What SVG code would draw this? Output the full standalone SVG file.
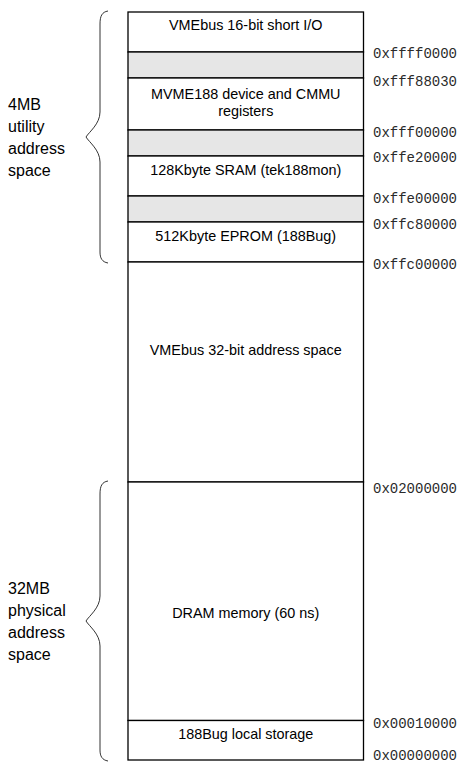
<svg xmlns="http://www.w3.org/2000/svg" width="461" height="770" viewBox="0 0 461 770">
<style>
.cell{fill:#ffffff;stroke:#000000;stroke-width:1.3}
.gap{fill:#e6e6e6;stroke:#000000;stroke-width:1.3}
.lbl{font-family:"Liberation Sans",Arial,sans-serif;font-size:14.4px;fill:#000000;text-anchor:middle}
.side{font-family:"Liberation Sans",Arial,sans-serif;font-size:16px;fill:#000000}
.addr{font-family:"Liberation Mono","Courier New",monospace;font-size:14px;fill:#2a2a2a}
.brace{fill:none;stroke:#333333;stroke-width:1}
</style>
<rect width="461" height="770" fill="#ffffff"/>
<g id="vme16">
<rect class="cell" x="128" y="12" width="235.5" height="40"/>
<text class="lbl" x="245.75" y="30">VMEbus 16-bit short I/O</text>
</g>
<g id="gap1"><rect class="gap" x="128" y="52" width="235.5" height="26"/></g>
<g id="mvme188">
<rect class="cell" x="128" y="78" width="235.5" height="52"/>
<text class="lbl" x="245.75" y="99">MVME188 device and CMMU</text>
<text class="lbl" x="245.75" y="116">registers</text>
</g>
<g id="gap2"><rect class="gap" x="128" y="130" width="235.5" height="26"/></g>
<g id="sram">
<rect class="cell" x="128" y="156" width="235.5" height="40"/>
<text class="lbl" x="245.75" y="175">128Kbyte SRAM (tek188mon)</text>
</g>
<g id="gap3"><rect class="gap" x="128" y="196" width="235.5" height="26"/></g>
<g id="eprom">
<rect class="cell" x="128" y="222" width="235.5" height="40"/>
<text class="lbl" x="245.75" y="241">512Kbyte EPROM (188Bug)</text>
</g>
<g id="vme32">
<rect class="cell" x="128" y="262" width="235.5" height="220"/>
<text class="lbl" x="245.75" y="355">VMEbus 32-bit address space</text>
</g>
<g id="dram">
<rect class="cell" x="128" y="482" width="235.5" height="238.5"/>
<text class="lbl" x="245.75" y="618">DRAM memory (60 ns)</text>
</g>
<g id="bugstore">
<rect class="cell" x="128" y="720.5" width="235.5" height="39.5"/>
<text class="lbl" x="245.75" y="739">188Bug local storage</text>
</g>
<g id="addresses">
<text class="addr" x="373" y="58">0xffff0000</text>
<text class="addr" x="373" y="86">0xfff88030</text>
<text class="addr" x="373" y="137">0xfff00000</text>
<text class="addr" x="373" y="162">0xffe20000</text>
<text class="addr" x="373" y="203">0xffe00000</text>
<text class="addr" x="373" y="229">0xffc80000</text>
<text class="addr" x="373" y="269">0xffc00000</text>
<text class="addr" x="373" y="493">0x02000000</text>
<text class="addr" x="373" y="728">0x00010000</text>
<text class="addr" x="373" y="760">0x00000000</text>
</g>
<g id="utility">
<path class="brace" d="M108,11 C102,12 100,16 100,24 L100,112 C100,124 89,132 86,137 C89,142 100,150 100,162 L100,252 C100,258 102,262 108,263"/>
<text class="side" x="8" y="110">4MB</text>
<text class="side" x="8" y="132">utility</text>
<text class="side" x="8" y="154">address</text>
<text class="side" x="8" y="176">space</text>
</g>
<g id="physical">
<path class="brace" d="M108,481 C102,482 100,486 100,494 L100,596 C100,608 89,616 86,621 C89,626 100,634 100,646 L100,750 C100,756 102,760 108,761"/>
<text class="side" x="8" y="594">32MB</text>
<text class="side" x="8" y="616">physical</text>
<text class="side" x="8" y="638">address</text>
<text class="side" x="8" y="660">space</text>
</g>
</svg>
